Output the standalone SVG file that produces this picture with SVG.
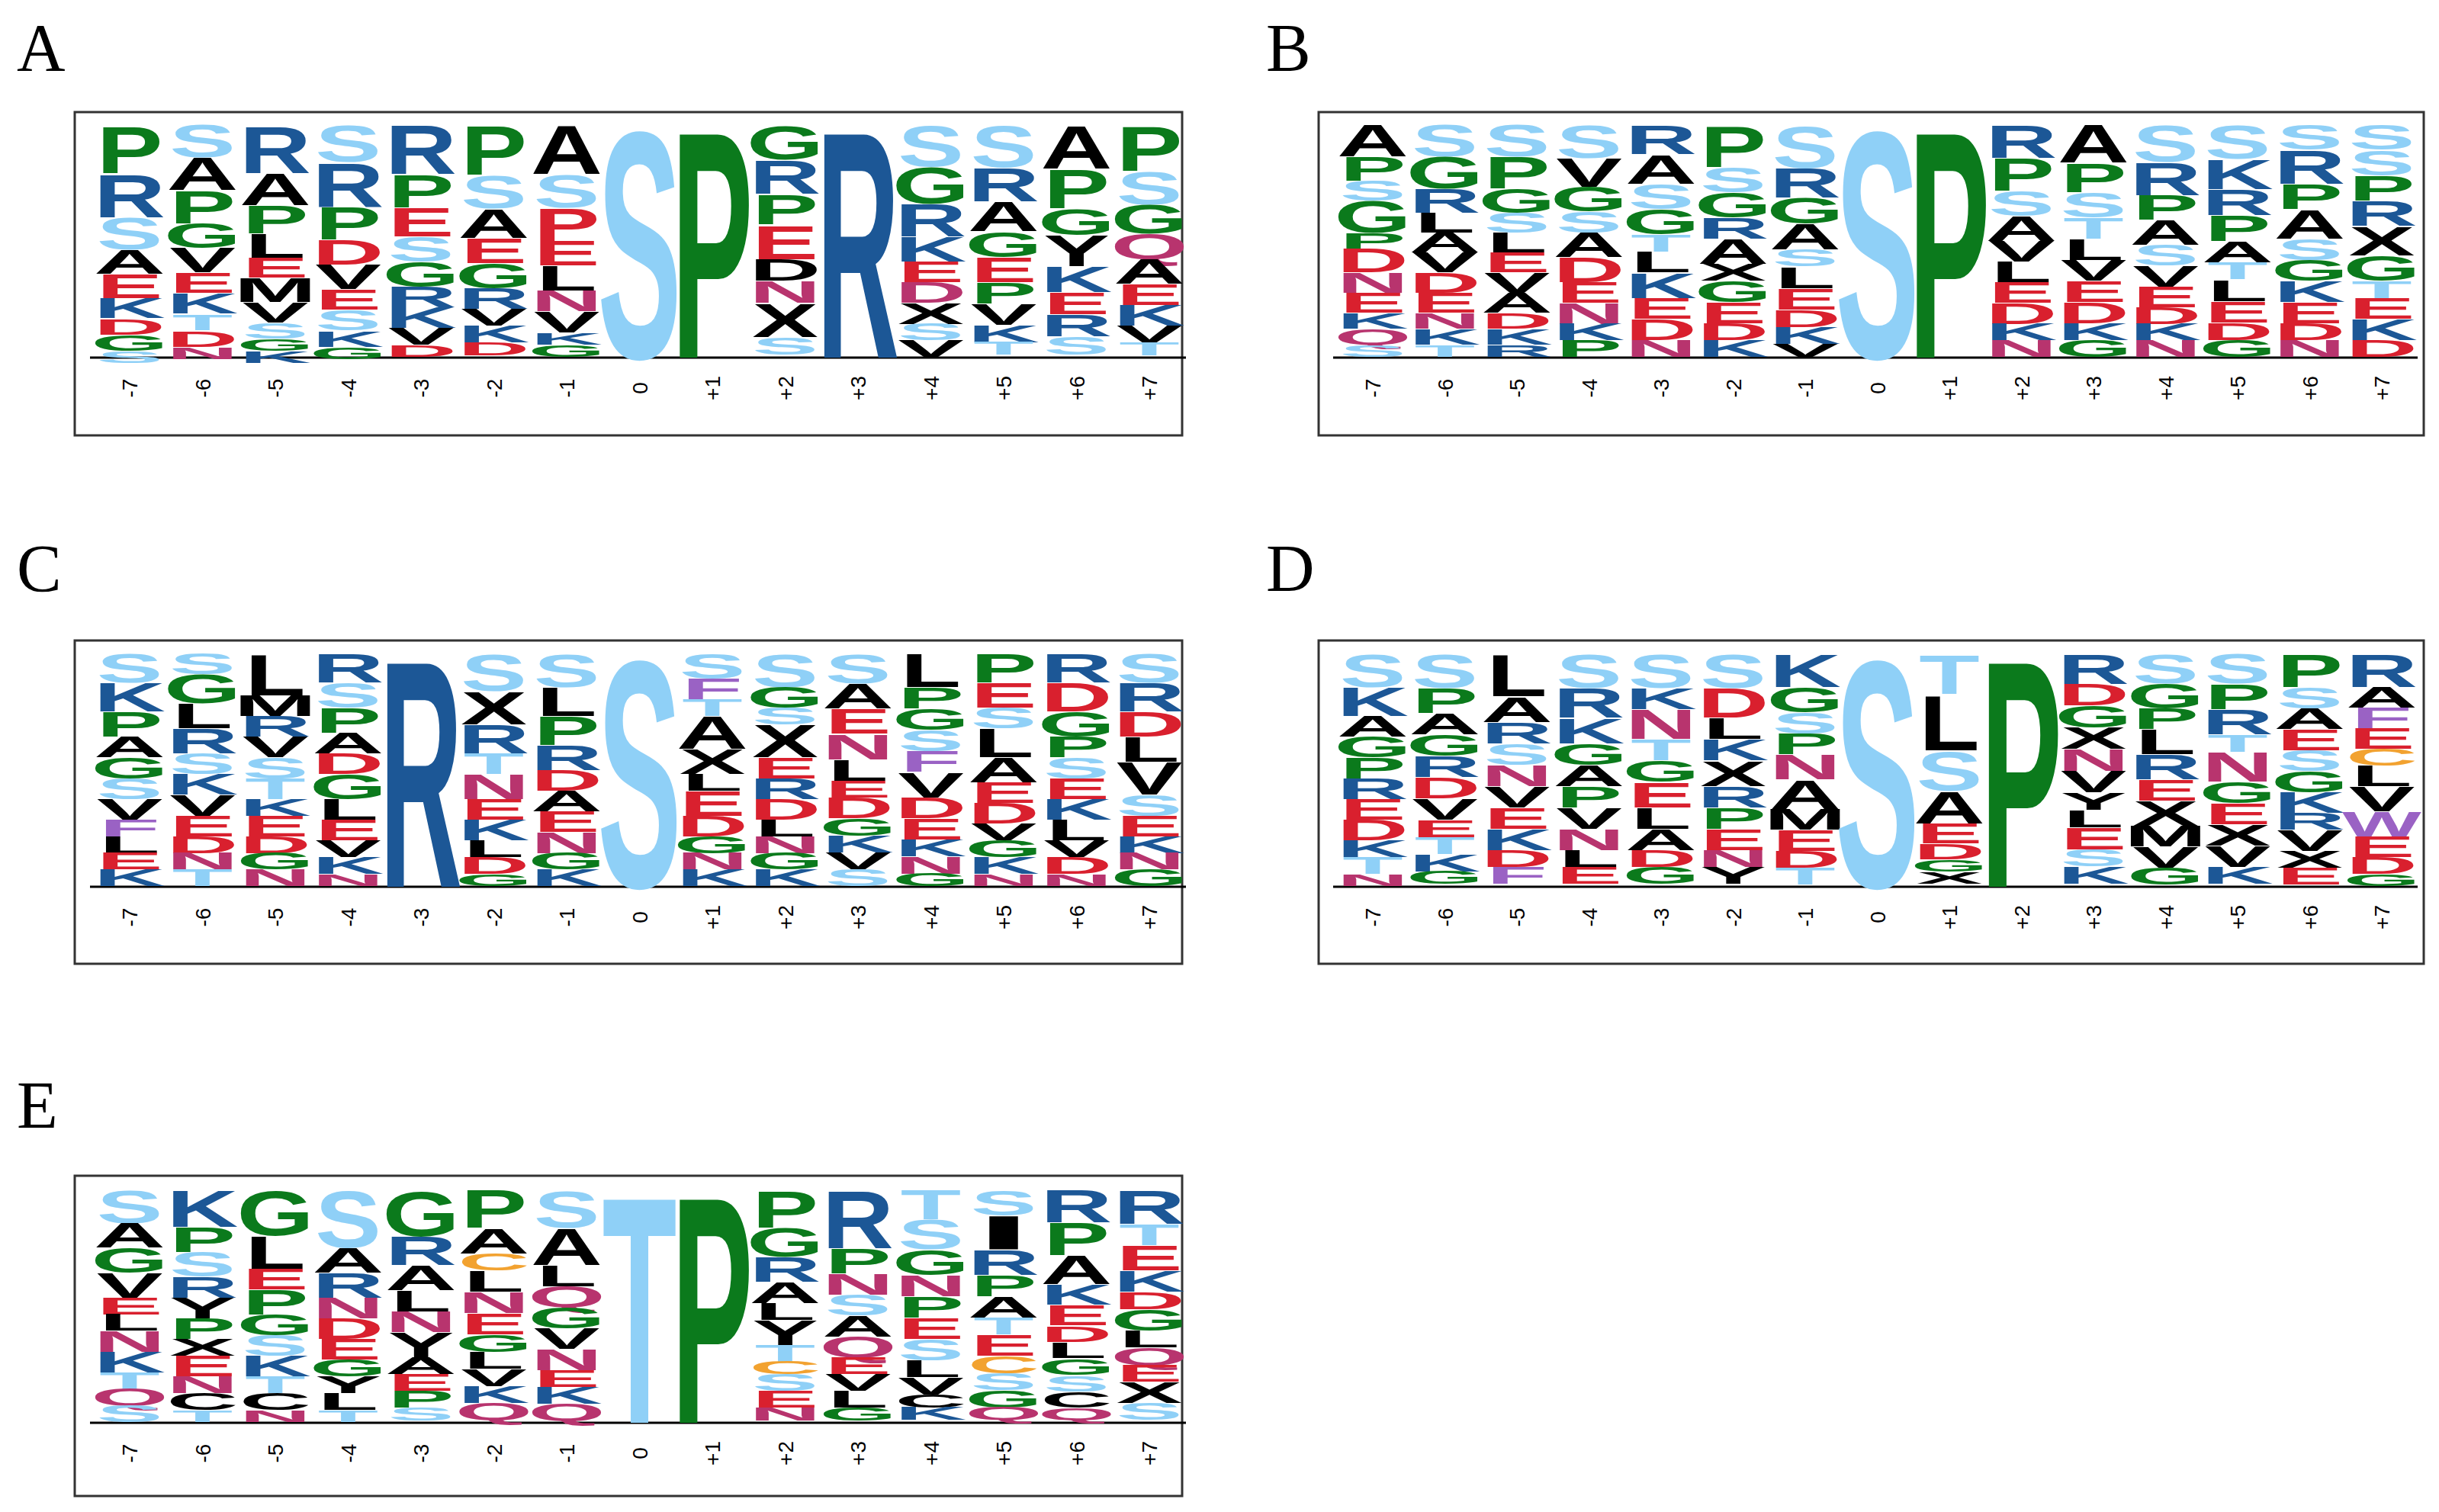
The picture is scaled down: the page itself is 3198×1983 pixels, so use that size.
<svg xmlns="http://www.w3.org/2000/svg" width="3198" height="1983" viewBox="0 0 3198 1983">
<style>
text{font-family:"Liberation Sans",Arial,sans-serif;font-weight:bold;font-size:100px;text-anchor:middle}
.s{fill:#8fd0f7}.g{fill:#0b7a1c}.b{fill:#1c5796}.k{fill:#000}.r{fill:#d9202e}.m{fill:#b8346e}.p{fill:#9a62c4}.o{fill:#f2a230}
.ax{font-weight:normal;font-size:28px;fill:#000}
.pl{font-family:"Liberation Serif","Times New Roman",serif;font-weight:normal;font-size:88px;text-anchor:start}
.box{fill:#fff;stroke:#333;stroke-width:3}
.base{stroke:#000;stroke-width:3}
</style>
<rect width="3198" height="1983" fill="#fff"/>

<g id="A">
<text class="pl" x="22" y="92">A</text>
<rect class="box" x="98" y="147" width="1452" height="424"/>
<line class="base" x1="118" y1="469" x2="1555" y2="469"/>
<g transform="translate(170,163)scale(1,1.06)"><text class="g" transform="translate(0,60)scale(1.3,.83)">P</text><text class="b" transform="translate(0,115)scale(1.3,.76)">R</text><text class="s" transform="translate(0,155)scale(1.3,.56)">S</text><text class="k" transform="translate(0,185)scale(1.3,.42)">A</text><text class="r" transform="translate(0,215)scale(1.3,.42)">E</text><text class="b" transform="translate(0,240)scale(1.3,.35)">K</text><text class="r" transform="translate(0,260)scale(1.3,.28)">D</text><text class="g" transform="translate(0,280)scale(1.3,.28)">G</text><text class="s" transform="translate(0,295)scale(1.3,.21)">S</text></g>
<g transform="translate(265.5,163)scale(1,1.08)"><text class="s" transform="translate(0,40)scale(1.3,.56)">S</text><text class="k" transform="translate(0,80)scale(1.3,.56)">A</text><text class="g" transform="translate(0,120)scale(1.3,.56)">P</text><text class="g" transform="translate(0,150)scale(1.3,.42)">G</text><text class="k" transform="translate(0,180)scale(1.3,.42)">V</text><text class="r" transform="translate(0,205)scale(1.3,.35)">E</text><text class="b" transform="translate(0,230)scale(1.3,.35)">K</text><text class="s" transform="translate(0,250)scale(1.3,.28)">T</text><text class="r" transform="translate(0,270)scale(1.3,.28)">D</text><text class="m" transform="translate(0,285)scale(1.3,.21)">N</text></g>
<g transform="translate(361,163)scale(1,1.06)"><text class="b" transform="translate(0,60)scale(1.3,.83)">R</text><text class="k" transform="translate(0,100)scale(1.3,.56)">A</text><text class="g" transform="translate(0,135)scale(1.3,.49)">P</text><text class="k" transform="translate(0,165)scale(1.3,.42)">L</text><text class="r" transform="translate(0,190)scale(1.3,.35)">E</text><text class="k" transform="translate(0,220)scale(1.3,.42)">M</text><text class="k" transform="translate(0,245)scale(1.3,.35)">V</text><text class="s" transform="translate(0,265)scale(1.3,.28)">S</text><text class="g" transform="translate(0,280)scale(1.3,.21)">G</text><text class="b" transform="translate(0,295)scale(1.3,.21)">K</text></g>
<g transform="translate(456.5,163)scale(1,1.08)"><text class="s" transform="translate(0,45)scale(1.3,.63)">S</text><text class="b" transform="translate(0,100)scale(1.3,.76)">R</text><text class="g" transform="translate(0,140)scale(1.3,.56)">P</text><text class="r" transform="translate(0,170)scale(1.3,.42)">D</text><text class="k" transform="translate(0,200)scale(1.3,.42)">V</text><text class="r" transform="translate(0,225)scale(1.3,.35)">E</text><text class="s" transform="translate(0,250)scale(1.3,.35)">S</text><text class="b" transform="translate(0,270)scale(1.3,.28)">K</text><text class="g" transform="translate(0,285)scale(1.3,.21)">G</text></g>
<g transform="translate(552,163)scale(1,1.09)"><text class="b" transform="translate(0,60)scale(1.3,.83)">R</text><text class="g" transform="translate(0,100)scale(1.3,.56)">P</text><text class="r" transform="translate(0,135)scale(1.3,.49)">E</text><text class="s" transform="translate(0,165)scale(1.3,.42)">S</text><text class="g" transform="translate(0,195)scale(1.3,.42)">G</text><text class="b" transform="translate(0,220)scale(1.3,.35)">R</text><text class="b" transform="translate(0,245)scale(1.3,.35)">K</text><text class="k" transform="translate(0,265)scale(1.3,.28)">V</text><text class="r" transform="translate(0,280)scale(1.3,.21)">D</text></g>
<g transform="translate(647.5,163)scale(1,1.1)"><text class="g" transform="translate(0,60)scale(1.3,.83)">P</text><text class="s" transform="translate(0,100)scale(1.3,.56)">S</text><text class="k" transform="translate(0,135)scale(1.3,.49)">A</text><text class="r" transform="translate(0,165)scale(1.3,.42)">E</text><text class="g" transform="translate(0,195)scale(1.3,.42)">G</text><text class="b" transform="translate(0,220)scale(1.3,.35)">R</text><text class="k" transform="translate(0,240)scale(1.3,.28)">V</text><text class="b" transform="translate(0,260)scale(1.3,.28)">K</text><text class="r" transform="translate(0,275)scale(1.3,.21)">D</text></g>
<g transform="translate(743,163)scale(1,1.09)"><text class="k" transform="translate(0,60)scale(1.3,.83)">A</text><text class="s" transform="translate(0,100)scale(1.3,.56)">S</text><text class="r" transform="translate(0,140)scale(1.3,.56)">P</text><text class="r" transform="translate(0,170)scale(1.3,.42)">E</text><text class="k" transform="translate(0,200)scale(1.3,.42)">L</text><text class="m" transform="translate(0,225)scale(1.3,.35)">N</text><text class="k" transform="translate(0,250)scale(1.3,.35)">V</text><text class="b" transform="translate(0,265)scale(1.3,.21)">K</text><text class="g" transform="translate(0,280)scale(1.3,.21)">G</text></g>
<g transform="translate(838.5,163)"><text class="s" transform="translate(0,306)scale(1.65,4.25)">S</text></g>
<g transform="translate(934,163)"><text class="g" transform="translate(0,306)scale(1.6,4.25)">P</text></g>
<g transform="translate(1029.5,163)scale(1,1.14)"><text class="g" transform="translate(0,40)scale(1.3,.56)">G</text><text class="b" transform="translate(0,80)scale(1.3,.56)">R</text><text class="g" transform="translate(0,115)scale(1.3,.49)">P</text><text class="r" transform="translate(0,155)scale(1.3,.56)">E</text><text class="k" transform="translate(0,180)scale(1.3,.35)">D</text><text class="m" transform="translate(0,205)scale(1.3,.35)">N</text><text class="k" transform="translate(0,245)scale(1.3,.56)">X</text><text class="s" transform="translate(0,265)scale(1.3,.28)">S</text></g>
<g transform="translate(1125,163)"><text class="b" transform="translate(0,306)scale(1.5,4.25)">R</text></g>
<g transform="translate(1220.5,163)scale(1,1.09)"><text class="s" transform="translate(0,50)scale(1.3,.69)">S</text><text class="g" transform="translate(0,95)scale(1.3,.63)">G</text><text class="b" transform="translate(0,135)scale(1.3,.56)">R</text><text class="b" transform="translate(0,165)scale(1.3,.42)">K</text><text class="r" transform="translate(0,190)scale(1.3,.35)">E</text><text class="m" transform="translate(0,215)scale(1.3,.35)">D</text><text class="k" transform="translate(0,240)scale(1.3,.35)">X</text><text class="s" transform="translate(0,260)scale(1.3,.28)">S</text><text class="k" transform="translate(0,280)scale(1.3,.28)">V</text></g>
<g transform="translate(1316,163)scale(1,1.12)"><text class="s" transform="translate(0,50)scale(1.3,.69)">S</text><text class="b" transform="translate(0,90)scale(1.3,.56)">R</text><text class="k" transform="translate(0,125)scale(1.3,.49)">A</text><text class="g" transform="translate(0,155)scale(1.3,.42)">G</text><text class="r" transform="translate(0,185)scale(1.3,.42)">E</text><text class="g" transform="translate(0,210)scale(1.3,.35)">P</text><text class="k" transform="translate(0,235)scale(1.3,.35)">V</text><text class="b" transform="translate(0,255)scale(1.3,.28)">K</text><text class="s" transform="translate(0,270)scale(1.3,.21)">T</text></g>
<g transform="translate(1411.5,163)scale(1,1.16)"><text class="k" transform="translate(0,50)scale(1.3,.69)">A</text><text class="g" transform="translate(0,95)scale(1.3,.63)">P</text><text class="g" transform="translate(0,125)scale(1.3,.42)">G</text><text class="k" transform="translate(0,160)scale(1.3,.49)">Y</text><text class="b" transform="translate(0,190)scale(1.3,.42)">K</text><text class="r" transform="translate(0,215)scale(1.3,.35)">E</text><text class="b" transform="translate(0,240)scale(1.3,.35)">R</text><text class="s" transform="translate(0,260)scale(1.3,.28)">S</text></g>
<g transform="translate(1507,163)scale(1,1.1)"><text class="g" transform="translate(0,55)scale(1.3,.76)">P</text><text class="s" transform="translate(0,95)scale(1.3,.56)">S</text><text class="g" transform="translate(0,130)scale(1.3,.49)">G</text><text class="m" transform="translate(0,160)scale(1.3,.42)">Q</text><text class="k" transform="translate(0,190)scale(1.3,.42)">A</text><text class="r" transform="translate(0,215)scale(1.3,.35)">E</text><text class="b" transform="translate(0,240)scale(1.3,.35)">K</text><text class="k" transform="translate(0,260)scale(1.3,.28)">V</text><text class="s" transform="translate(0,275)scale(1.3,.21)">T</text></g>
<g><text class="ax" transform="translate(180,509)rotate(-90)">-7</text><text class="ax" transform="translate(275.5,509)rotate(-90)">-6</text><text class="ax" transform="translate(371,509)rotate(-90)">-5</text><text class="ax" transform="translate(466.5,509)rotate(-90)">-4</text><text class="ax" transform="translate(562,509)rotate(-90)">-3</text><text class="ax" transform="translate(657.5,509)rotate(-90)">-2</text><text class="ax" transform="translate(753,509)rotate(-90)">-1</text><text class="ax" transform="translate(848.5,509)rotate(-90)">0</text><text class="ax" transform="translate(944,509)rotate(-90)">+1</text><text class="ax" transform="translate(1039.5,509)rotate(-90)">+2</text><text class="ax" transform="translate(1135,509)rotate(-90)">+3</text><text class="ax" transform="translate(1230.5,509)rotate(-90)">+4</text><text class="ax" transform="translate(1326,509)rotate(-90)">+5</text><text class="ax" transform="translate(1421.5,509)rotate(-90)">+6</text><text class="ax" transform="translate(1517,509)rotate(-90)">+7</text></g>
</g>

<g id="B">
<text class="pl" x="1660" y="92">B</text>
<rect class="box" x="1729" y="147" width="1449" height="424"/>
<line class="base" x1="1748" y1="469" x2="3170" y2="469"/>
<g transform="translate(1800,163)scale(1,1.05)"><text class="k" transform="translate(0,40)scale(1.3,.56)">A</text><text class="g" transform="translate(0,70)scale(1.3,.42)">P</text><text class="s" transform="translate(0,95)scale(1.3,.35)">S</text><text class="g" transform="translate(0,135)scale(1.3,.56)">G</text><text class="g" transform="translate(0,155)scale(1.3,.28)">P</text><text class="r" transform="translate(0,185)scale(1.3,.42)">D</text><text class="m" transform="translate(0,210)scale(1.3,.35)">N</text><text class="r" transform="translate(0,235)scale(1.3,.35)">E</text><text class="b" transform="translate(0,255)scale(1.3,.28)">K</text><text class="m" transform="translate(0,275)scale(1.3,.28)">Q</text><text class="s" transform="translate(0,290)scale(1.3,.21)">S</text></g>
<g transform="translate(1894.5,163)scale(1,1.05)"><text class="s" transform="translate(0,40)scale(1.3,.56)">S</text><text class="g" transform="translate(0,80)scale(1.3,.56)">G</text><text class="b" transform="translate(0,110)scale(1.3,.42)">R</text><text class="k" transform="translate(0,135)scale(1.3,.35)">L</text><text class="k" transform="translate(0,160)scale(1.3,.35)">A</text><text class="k" transform="translate(0,185)scale(1.3,.35)">V</text><text class="r" transform="translate(0,210)scale(1.3,.35)">D</text><text class="r" transform="translate(0,235)scale(1.3,.35)">E</text><text class="m" transform="translate(0,255)scale(1.3,.28)">N</text><text class="b" transform="translate(0,275)scale(1.3,.28)">K</text><text class="s" transform="translate(0,290)scale(1.3,.21)">T</text></g>
<g transform="translate(1989,163)scale(1,1.05)"><text class="s" transform="translate(0,40)scale(1.3,.56)">S</text><text class="g" transform="translate(0,80)scale(1.3,.56)">P</text><text class="g" transform="translate(0,110)scale(1.3,.42)">G</text><text class="s" transform="translate(0,135)scale(1.3,.35)">S</text><text class="k" transform="translate(0,160)scale(1.3,.35)">L</text><text class="r" transform="translate(0,185)scale(1.3,.35)">E</text><text class="k" transform="translate(0,210)scale(1.3,.35)">V</text><text class="k" transform="translate(0,235)scale(1.3,.35)">A</text><text class="r" transform="translate(0,255)scale(1.3,.28)">D</text><text class="b" transform="translate(0,275)scale(1.3,.28)">K</text><text class="b" transform="translate(0,290)scale(1.3,.21)">R</text></g>
<g transform="translate(2083.5,163)scale(1,1.09)"><text class="s" transform="translate(0,40)scale(1.3,.56)">S</text><text class="k" transform="translate(0,75)scale(1.3,.49)">V</text><text class="g" transform="translate(0,105)scale(1.3,.42)">G</text><text class="s" transform="translate(0,130)scale(1.3,.35)">S</text><text class="k" transform="translate(0,160)scale(1.3,.42)">A</text><text class="r" transform="translate(0,190)scale(1.3,.42)">D</text><text class="r" transform="translate(0,215)scale(1.3,.35)">E</text><text class="m" transform="translate(0,240)scale(1.3,.35)">N</text><text class="b" transform="translate(0,260)scale(1.3,.28)">K</text><text class="g" transform="translate(0,280)scale(1.3,.28)">P</text></g>
<g transform="translate(2178,163)scale(1,1.11)"><text class="b" transform="translate(0,35)scale(1.3,.49)">R</text><text class="k" transform="translate(0,70)scale(1.3,.49)">A</text><text class="s" transform="translate(0,100)scale(1.3,.42)">S</text><text class="g" transform="translate(0,130)scale(1.3,.42)">G</text><text class="s" transform="translate(0,150)scale(1.3,.28)">T</text><text class="k" transform="translate(0,175)scale(1.3,.35)">L</text><text class="b" transform="translate(0,205)scale(1.3,.42)">K</text><text class="r" transform="translate(0,230)scale(1.3,.35)">E</text><text class="r" transform="translate(0,255)scale(1.3,.35)">D</text><text class="m" transform="translate(0,275)scale(1.3,.28)">N</text></g>
<g transform="translate(2272.5,163)scale(1,1.11)"><text class="g" transform="translate(0,50)scale(1.3,.69)">P</text><text class="s" transform="translate(0,80)scale(1.3,.42)">S</text><text class="g" transform="translate(0,110)scale(1.3,.42)">G</text><text class="b" transform="translate(0,135)scale(1.3,.35)">R</text><text class="k" transform="translate(0,165)scale(1.3,.42)">A</text><text class="k" transform="translate(0,185)scale(1.3,.28)">X</text><text class="g" transform="translate(0,210)scale(1.3,.35)">G</text><text class="r" transform="translate(0,235)scale(1.3,.35)">E</text><text class="r" transform="translate(0,255)scale(1.3,.28)">D</text><text class="b" transform="translate(0,275)scale(1.3,.28)">K</text></g>
<g transform="translate(2367,163)scale(1,1.13)"><text class="s" transform="translate(0,50)scale(1.3,.69)">S</text><text class="b" transform="translate(0,85)scale(1.3,.49)">R</text><text class="g" transform="translate(0,115)scale(1.3,.42)">G</text><text class="k" transform="translate(0,145)scale(1.3,.42)">A</text><text class="s" transform="translate(0,165)scale(1.3,.28)">S</text><text class="k" transform="translate(0,190)scale(1.3,.35)">L</text><text class="r" transform="translate(0,215)scale(1.3,.35)">E</text><text class="r" transform="translate(0,235)scale(1.3,.28)">D</text><text class="b" transform="translate(0,255)scale(1.3,.28)">K</text><text class="k" transform="translate(0,270)scale(1.3,.21)">V</text></g>
<g transform="translate(2461.5,163)"><text class="s" transform="translate(0,306)scale(1.65,4.25)">S</text></g>
<g transform="translate(2556,163)"><text class="g" transform="translate(0,306)scale(1.6,4.25)">P</text></g>
<g transform="translate(2650.5,163)scale(1,1.09)"><text class="b" transform="translate(0,40)scale(1.3,.56)">R</text><text class="g" transform="translate(0,80)scale(1.3,.56)">P</text><text class="s" transform="translate(0,110)scale(1.3,.42)">S</text><text class="k" transform="translate(0,140)scale(1.3,.42)">A</text><text class="k" transform="translate(0,165)scale(1.3,.35)">V</text><text class="k" transform="translate(0,190)scale(1.3,.35)">L</text><text class="r" transform="translate(0,215)scale(1.3,.35)">E</text><text class="r" transform="translate(0,240)scale(1.3,.35)">D</text><text class="b" transform="translate(0,260)scale(1.3,.28)">K</text><text class="m" transform="translate(0,280)scale(1.3,.28)">N</text></g>
<g transform="translate(2745,163)scale(1,1.11)"><text class="k" transform="translate(0,45)scale(1.3,.63)">A</text><text class="g" transform="translate(0,80)scale(1.3,.49)">P</text><text class="s" transform="translate(0,110)scale(1.3,.42)">S</text><text class="s" transform="translate(0,135)scale(1.3,.35)">T</text><text class="k" transform="translate(0,160)scale(1.3,.35)">L</text><text class="k" transform="translate(0,185)scale(1.3,.35)">V</text><text class="r" transform="translate(0,210)scale(1.3,.35)">E</text><text class="r" transform="translate(0,235)scale(1.3,.35)">D</text><text class="b" transform="translate(0,255)scale(1.3,.28)">K</text><text class="g" transform="translate(0,275)scale(1.3,.28)">G</text></g>
<g transform="translate(2839.5,163)scale(1,1.09)"><text class="s" transform="translate(0,45)scale(1.3,.63)">S</text><text class="b" transform="translate(0,85)scale(1.3,.56)">R</text><text class="g" transform="translate(0,115)scale(1.3,.42)">P</text><text class="k" transform="translate(0,145)scale(1.3,.42)">A</text><text class="s" transform="translate(0,170)scale(1.3,.35)">S</text><text class="k" transform="translate(0,195)scale(1.3,.35)">V</text><text class="r" transform="translate(0,220)scale(1.3,.35)">E</text><text class="r" transform="translate(0,240)scale(1.3,.28)">D</text><text class="b" transform="translate(0,260)scale(1.3,.28)">K</text><text class="m" transform="translate(0,280)scale(1.3,.28)">N</text></g>
<g transform="translate(2934,163)scale(1,1.13)"><text class="s" transform="translate(0,40)scale(1.3,.56)">S</text><text class="b" transform="translate(0,75)scale(1.3,.49)">K</text><text class="b" transform="translate(0,105)scale(1.3,.42)">R</text><text class="g" transform="translate(0,135)scale(1.3,.42)">P</text><text class="k" transform="translate(0,160)scale(1.3,.35)">A</text><text class="s" transform="translate(0,180)scale(1.3,.28)">T</text><text class="k" transform="translate(0,205)scale(1.3,.35)">L</text><text class="r" transform="translate(0,230)scale(1.3,.35)">E</text><text class="r" transform="translate(0,250)scale(1.3,.28)">D</text><text class="g" transform="translate(0,270)scale(1.3,.28)">G</text></g>
<g transform="translate(3028.5,163)scale(1,1.11)"><text class="s" transform="translate(0,30)scale(1.3,.42)">S</text><text class="b" transform="translate(0,70)scale(1.3,.56)">R</text><text class="g" transform="translate(0,100)scale(1.3,.42)">P</text><text class="k" transform="translate(0,135)scale(1.3,.49)">A</text><text class="s" transform="translate(0,160)scale(1.3,.35)">S</text><text class="g" transform="translate(0,185)scale(1.3,.35)">G</text><text class="b" transform="translate(0,210)scale(1.3,.35)">K</text><text class="r" transform="translate(0,235)scale(1.3,.35)">E</text><text class="r" transform="translate(0,255)scale(1.3,.28)">D</text><text class="m" transform="translate(0,275)scale(1.3,.28)">N</text></g>
<g transform="translate(3123,163)scale(1,1.11)"><text class="s" transform="translate(0,30)scale(1.3,.42)">S</text><text class="s" transform="translate(0,60)scale(1.3,.42)">S</text><text class="g" transform="translate(0,90)scale(1.3,.42)">P</text><text class="b" transform="translate(0,120)scale(1.3,.42)">R</text><text class="k" transform="translate(0,155)scale(1.3,.49)">X</text><text class="g" transform="translate(0,185)scale(1.3,.42)">G</text><text class="s" transform="translate(0,205)scale(1.3,.28)">T</text><text class="r" transform="translate(0,230)scale(1.3,.35)">E</text><text class="b" transform="translate(0,255)scale(1.3,.35)">K</text><text class="r" transform="translate(0,275)scale(1.3,.28)">D</text></g>
<g><text class="ax" transform="translate(1810,509)rotate(-90)">-7</text><text class="ax" transform="translate(1904.5,509)rotate(-90)">-6</text><text class="ax" transform="translate(1999,509)rotate(-90)">-5</text><text class="ax" transform="translate(2093.5,509)rotate(-90)">-4</text><text class="ax" transform="translate(2188,509)rotate(-90)">-3</text><text class="ax" transform="translate(2282.5,509)rotate(-90)">-2</text><text class="ax" transform="translate(2377,509)rotate(-90)">-1</text><text class="ax" transform="translate(2471.5,509)rotate(-90)">0</text><text class="ax" transform="translate(2566,509)rotate(-90)">+1</text><text class="ax" transform="translate(2660.5,509)rotate(-90)">+2</text><text class="ax" transform="translate(2755,509)rotate(-90)">+3</text><text class="ax" transform="translate(2849.5,509)rotate(-90)">+4</text><text class="ax" transform="translate(2944,509)rotate(-90)">+5</text><text class="ax" transform="translate(3038.5,509)rotate(-90)">+6</text><text class="ax" transform="translate(3133,509)rotate(-90)">+7</text></g>
</g>

<g id="C">
<text class="pl" x="22" y="775">C</text>
<rect class="box" x="98" y="840" width="1452" height="424"/>
<line class="base" x1="118" y1="1163" x2="1555" y2="1163"/>
<g transform="translate(170,857)scale(1,1.09)"><text class="s" transform="translate(0,35)scale(1.3,.49)">S</text><text class="b" transform="translate(0,70)scale(1.3,.49)">K</text><text class="g" transform="translate(0,100)scale(1.3,.42)">P</text><text class="k" transform="translate(0,125)scale(1.3,.35)">A</text><text class="g" transform="translate(0,150)scale(1.3,.35)">G</text><text class="s" transform="translate(0,175)scale(1.3,.35)">S</text><text class="k" transform="translate(0,200)scale(1.3,.35)">V</text><text class="p" transform="translate(0,220)scale(1.3,.28)">F</text><text class="k" transform="translate(0,240)scale(1.3,.28)">L</text><text class="r" transform="translate(0,260)scale(1.3,.28)">E</text><text class="b" transform="translate(0,280)scale(1.3,.28)">K</text></g>
<g transform="translate(265.5,857)scale(1,1.09)"><text class="s" transform="translate(0,25)scale(1.3,.35)">S</text><text class="g" transform="translate(0,60)scale(1.3,.49)">G</text><text class="k" transform="translate(0,90)scale(1.3,.42)">L</text><text class="b" transform="translate(0,120)scale(1.3,.42)">R</text><text class="s" transform="translate(0,145)scale(1.3,.35)">S</text><text class="b" transform="translate(0,170)scale(1.3,.35)">K</text><text class="k" transform="translate(0,195)scale(1.3,.35)">V</text><text class="r" transform="translate(0,220)scale(1.3,.35)">E</text><text class="r" transform="translate(0,240)scale(1.3,.28)">D</text><text class="m" transform="translate(0,260)scale(1.3,.28)">N</text><text class="s" transform="translate(0,280)scale(1.3,.28)">T</text></g>
<g transform="translate(361,857)scale(1,1.09)"><text class="k" transform="translate(0,50)scale(1.3,.69)">L</text><text class="k" transform="translate(0,75)scale(1.3,.35)">M</text><text class="b" transform="translate(0,100)scale(1.3,.35)">R</text><text class="k" transform="translate(0,125)scale(1.3,.35)">V</text><text class="s" transform="translate(0,150)scale(1.3,.35)">S</text><text class="s" transform="translate(0,175)scale(1.3,.35)">T</text><text class="b" transform="translate(0,195)scale(1.3,.28)">K</text><text class="r" transform="translate(0,220)scale(1.3,.35)">E</text><text class="r" transform="translate(0,240)scale(1.3,.28)">D</text><text class="g" transform="translate(0,260)scale(1.3,.28)">G</text><text class="m" transform="translate(0,280)scale(1.3,.28)">N</text></g>
<g transform="translate(456.5,857)scale(1,1.09)"><text class="b" transform="translate(0,35)scale(1.3,.49)">R</text><text class="s" transform="translate(0,65)scale(1.3,.42)">S</text><text class="g" transform="translate(0,95)scale(1.3,.42)">P</text><text class="k" transform="translate(0,120)scale(1.3,.35)">A</text><text class="r" transform="translate(0,145)scale(1.3,.35)">D</text><text class="g" transform="translate(0,175)scale(1.3,.42)">G</text><text class="k" transform="translate(0,200)scale(1.3,.35)">L</text><text class="r" transform="translate(0,225)scale(1.3,.35)">E</text><text class="k" transform="translate(0,245)scale(1.3,.28)">V</text><text class="b" transform="translate(0,265)scale(1.3,.28)">K</text><text class="m" transform="translate(0,280)scale(1.3,.21)">N</text></g>
<g transform="translate(552,857)"><text class="b" transform="translate(0,306)scale(1.5,4.25)">R</text></g>
<g transform="translate(647.5,857)scale(1,1.09)"><text class="s" transform="translate(0,45)scale(1.3,.63)">S</text><text class="k" transform="translate(0,85)scale(1.3,.56)">X</text><text class="b" transform="translate(0,120)scale(1.3,.49)">R</text><text class="s" transform="translate(0,145)scale(1.3,.35)">T</text><text class="m" transform="translate(0,175)scale(1.3,.42)">N</text><text class="r" transform="translate(0,200)scale(1.3,.35)">E</text><text class="b" transform="translate(0,225)scale(1.3,.35)">K</text><text class="k" transform="translate(0,245)scale(1.3,.28)">L</text><text class="r" transform="translate(0,265)scale(1.3,.28)">D</text><text class="g" transform="translate(0,280)scale(1.3,.21)">G</text></g>
<g transform="translate(743,857)scale(1,1.09)"><text class="s" transform="translate(0,40)scale(1.3,.56)">S</text><text class="k" transform="translate(0,75)scale(1.3,.49)">L</text><text class="g" transform="translate(0,110)scale(1.3,.49)">P</text><text class="b" transform="translate(0,140)scale(1.3,.42)">R</text><text class="r" transform="translate(0,165)scale(1.3,.35)">D</text><text class="k" transform="translate(0,190)scale(1.3,.35)">A</text><text class="r" transform="translate(0,215)scale(1.3,.35)">E</text><text class="m" transform="translate(0,240)scale(1.3,.35)">N</text><text class="g" transform="translate(0,260)scale(1.3,.28)">G</text><text class="b" transform="translate(0,280)scale(1.3,.28)">K</text></g>
<g transform="translate(838.5,857)"><text class="s" transform="translate(0,306)scale(1.65,4.25)">S</text></g>
<g transform="translate(934,857)scale(1,1.09)"><text class="s" transform="translate(0,30)scale(1.3,.42)">S</text><text class="p" transform="translate(0,55)scale(1.3,.35)">F</text><text class="s" transform="translate(0,75)scale(1.3,.28)">T</text><text class="k" transform="translate(0,115)scale(1.3,.56)">A</text><text class="k" transform="translate(0,145)scale(1.3,.42)">X</text><text class="k" transform="translate(0,165)scale(1.3,.28)">L</text><text class="r" transform="translate(0,195)scale(1.3,.42)">E</text><text class="r" transform="translate(0,220)scale(1.3,.35)">D</text><text class="g" transform="translate(0,240)scale(1.3,.28)">G</text><text class="m" transform="translate(0,260)scale(1.3,.28)">N</text><text class="b" transform="translate(0,280)scale(1.3,.28)">K</text></g>
<g transform="translate(1029.5,857)scale(1,1.09)"><text class="s" transform="translate(0,40)scale(1.3,.56)">S</text><text class="g" transform="translate(0,65)scale(1.3,.35)">G</text><text class="s" transform="translate(0,85)scale(1.3,.28)">S</text><text class="k" transform="translate(0,125)scale(1.3,.56)">X</text><text class="r" transform="translate(0,150)scale(1.3,.35)">E</text><text class="b" transform="translate(0,175)scale(1.3,.35)">R</text><text class="r" transform="translate(0,200)scale(1.3,.35)">D</text><text class="k" transform="translate(0,220)scale(1.3,.28)">L</text><text class="m" transform="translate(0,240)scale(1.3,.28)">N</text><text class="g" transform="translate(0,260)scale(1.3,.28)">G</text><text class="b" transform="translate(0,280)scale(1.3,.28)">K</text></g>
<g transform="translate(1125,857)scale(1,1.11)"><text class="s" transform="translate(0,35)scale(1.3,.49)">S</text><text class="k" transform="translate(0,65)scale(1.3,.42)">A</text><text class="r" transform="translate(0,95)scale(1.3,.42)">E</text><text class="m" transform="translate(0,125)scale(1.3,.42)">N</text><text class="k" transform="translate(0,150)scale(1.3,.35)">L</text><text class="r" transform="translate(0,170)scale(1.3,.28)">E</text><text class="r" transform="translate(0,195)scale(1.3,.35)">D</text><text class="g" transform="translate(0,215)scale(1.3,.28)">G</text><text class="b" transform="translate(0,235)scale(1.3,.28)">K</text><text class="k" transform="translate(0,255)scale(1.3,.28)">V</text><text class="s" transform="translate(0,275)scale(1.3,.28)">S</text></g>
<g transform="translate(1220.5,857)scale(1,1.11)"><text class="k" transform="translate(0,40)scale(1.3,.56)">L</text><text class="g" transform="translate(0,65)scale(1.3,.35)">P</text><text class="g" transform="translate(0,90)scale(1.3,.35)">G</text><text class="s" transform="translate(0,115)scale(1.3,.35)">S</text><text class="p" transform="translate(0,140)scale(1.3,.35)">F</text><text class="k" transform="translate(0,170)scale(1.3,.42)">V</text><text class="r" transform="translate(0,195)scale(1.3,.35)">D</text><text class="r" transform="translate(0,220)scale(1.3,.35)">E</text><text class="b" transform="translate(0,240)scale(1.3,.28)">K</text><text class="m" transform="translate(0,260)scale(1.3,.28)">N</text><text class="g" transform="translate(0,275)scale(1.3,.21)">G</text></g>
<g transform="translate(1316,857)scale(1,1.09)"><text class="g" transform="translate(0,35)scale(1.3,.49)">P</text><text class="r" transform="translate(0,65)scale(1.3,.42)">E</text><text class="s" transform="translate(0,90)scale(1.3,.35)">S</text><text class="k" transform="translate(0,125)scale(1.3,.49)">L</text><text class="k" transform="translate(0,155)scale(1.3,.42)">A</text><text class="r" transform="translate(0,180)scale(1.3,.35)">E</text><text class="r" transform="translate(0,205)scale(1.3,.35)">D</text><text class="k" transform="translate(0,225)scale(1.3,.28)">V</text><text class="g" transform="translate(0,245)scale(1.3,.28)">G</text><text class="b" transform="translate(0,265)scale(1.3,.28)">K</text><text class="m" transform="translate(0,280)scale(1.3,.21)">N</text></g>
<g transform="translate(1411.5,857)scale(1,1.09)"><text class="b" transform="translate(0,35)scale(1.3,.49)">R</text><text class="r" transform="translate(0,70)scale(1.3,.49)">D</text><text class="g" transform="translate(0,100)scale(1.3,.42)">G</text><text class="g" transform="translate(0,125)scale(1.3,.35)">P</text><text class="s" transform="translate(0,150)scale(1.3,.35)">S</text><text class="r" transform="translate(0,175)scale(1.3,.35)">E</text><text class="b" transform="translate(0,200)scale(1.3,.35)">K</text><text class="k" transform="translate(0,225)scale(1.3,.35)">L</text><text class="k" transform="translate(0,245)scale(1.3,.28)">V</text><text class="r" transform="translate(0,265)scale(1.3,.28)">D</text><text class="m" transform="translate(0,280)scale(1.3,.21)">N</text></g>
<g transform="translate(1507,857)scale(1,1.09)"><text class="s" transform="translate(0,35)scale(1.3,.49)">S</text><text class="b" transform="translate(0,70)scale(1.3,.49)">R</text><text class="r" transform="translate(0,100)scale(1.3,.42)">D</text><text class="k" transform="translate(0,130)scale(1.3,.42)">L</text><text class="k" transform="translate(0,170)scale(1.3,.56)">V</text><text class="s" transform="translate(0,195)scale(1.3,.35)">S</text><text class="r" transform="translate(0,220)scale(1.3,.35)">E</text><text class="b" transform="translate(0,240)scale(1.3,.28)">K</text><text class="m" transform="translate(0,260)scale(1.3,.28)">N</text><text class="g" transform="translate(0,280)scale(1.3,.28)">G</text></g>
<g><text class="ax" transform="translate(180,1203)rotate(-90)">-7</text><text class="ax" transform="translate(275.5,1203)rotate(-90)">-6</text><text class="ax" transform="translate(371,1203)rotate(-90)">-5</text><text class="ax" transform="translate(466.5,1203)rotate(-90)">-4</text><text class="ax" transform="translate(562,1203)rotate(-90)">-3</text><text class="ax" transform="translate(657.5,1203)rotate(-90)">-2</text><text class="ax" transform="translate(753,1203)rotate(-90)">-1</text><text class="ax" transform="translate(848.5,1203)rotate(-90)">0</text><text class="ax" transform="translate(944,1203)rotate(-90)">+1</text><text class="ax" transform="translate(1039.5,1203)rotate(-90)">+2</text><text class="ax" transform="translate(1135,1203)rotate(-90)">+3</text><text class="ax" transform="translate(1230.5,1203)rotate(-90)">+4</text><text class="ax" transform="translate(1326,1203)rotate(-90)">+5</text><text class="ax" transform="translate(1421.5,1203)rotate(-90)">+6</text><text class="ax" transform="translate(1517,1203)rotate(-90)">+7</text></g>
</g>

<g id="D">
<text class="pl" x="1660" y="775">D</text>
<rect class="box" x="1729" y="840" width="1449" height="424"/>
<line class="base" x1="1748" y1="1163" x2="3170" y2="1163"/>
<g transform="translate(1800,857)scale(1,1.09)"><text class="s" transform="translate(0,40)scale(1.3,.56)">S</text><text class="b" transform="translate(0,75)scale(1.3,.49)">K</text><text class="k" transform="translate(0,100)scale(1.3,.35)">A</text><text class="g" transform="translate(0,125)scale(1.3,.35)">G</text><text class="g" transform="translate(0,150)scale(1.3,.35)">P</text><text class="b" transform="translate(0,175)scale(1.3,.35)">R</text><text class="r" transform="translate(0,200)scale(1.3,.35)">E</text><text class="r" transform="translate(0,225)scale(1.3,.35)">D</text><text class="b" transform="translate(0,245)scale(1.3,.28)">K</text><text class="s" transform="translate(0,265)scale(1.3,.28)">T</text><text class="m" transform="translate(0,280)scale(1.3,.21)">N</text></g>
<g transform="translate(1894.5,857)scale(1,1.12)"><text class="s" transform="translate(0,40)scale(1.3,.56)">S</text><text class="g" transform="translate(0,70)scale(1.3,.42)">P</text><text class="k" transform="translate(0,95)scale(1.3,.35)">A</text><text class="g" transform="translate(0,120)scale(1.3,.35)">G</text><text class="b" transform="translate(0,145)scale(1.3,.35)">R</text><text class="r" transform="translate(0,170)scale(1.3,.35)">D</text><text class="k" transform="translate(0,195)scale(1.3,.35)">V</text><text class="r" transform="translate(0,215)scale(1.3,.28)">E</text><text class="s" transform="translate(0,235)scale(1.3,.28)">T</text><text class="b" transform="translate(0,255)scale(1.3,.28)">K</text><text class="g" transform="translate(0,270)scale(1.3,.21)">G</text></g>
<g transform="translate(1989,857)scale(1,1.12)"><text class="k" transform="translate(0,50)scale(1.3,.69)">L</text><text class="k" transform="translate(0,80)scale(1.3,.42)">A</text><text class="b" transform="translate(0,105)scale(1.3,.35)">R</text><text class="s" transform="translate(0,130)scale(1.3,.35)">S</text><text class="m" transform="translate(0,155)scale(1.3,.35)">N</text><text class="k" transform="translate(0,180)scale(1.3,.35)">V</text><text class="r" transform="translate(0,205)scale(1.3,.35)">E</text><text class="b" transform="translate(0,230)scale(1.3,.35)">K</text><text class="r" transform="translate(0,250)scale(1.3,.28)">D</text><text class="p" transform="translate(0,270)scale(1.3,.28)">F</text></g>
<g transform="translate(2083.5,857)scale(1,1.12)"><text class="s" transform="translate(0,40)scale(1.3,.56)">S</text><text class="b" transform="translate(0,75)scale(1.3,.49)">R</text><text class="b" transform="translate(0,105)scale(1.3,.42)">K</text><text class="g" transform="translate(0,130)scale(1.3,.35)">G</text><text class="k" transform="translate(0,155)scale(1.3,.35)">A</text><text class="g" transform="translate(0,180)scale(1.3,.35)">P</text><text class="k" transform="translate(0,205)scale(1.3,.35)">V</text><text class="m" transform="translate(0,230)scale(1.3,.35)">N</text><text class="k" transform="translate(0,250)scale(1.3,.28)">L</text><text class="r" transform="translate(0,270)scale(1.3,.28)">E</text></g>
<g transform="translate(2178,857)scale(1,1.12)"><text class="s" transform="translate(0,40)scale(1.3,.56)">S</text><text class="b" transform="translate(0,65)scale(1.3,.35)">K</text><text class="m" transform="translate(0,100)scale(1.3,.49)">N</text><text class="s" transform="translate(0,125)scale(1.3,.35)">T</text><text class="g" transform="translate(0,150)scale(1.3,.35)">G</text><text class="r" transform="translate(0,180)scale(1.3,.42)">E</text><text class="k" transform="translate(0,205)scale(1.3,.35)">L</text><text class="k" transform="translate(0,230)scale(1.3,.35)">A</text><text class="r" transform="translate(0,250)scale(1.3,.28)">D</text><text class="g" transform="translate(0,270)scale(1.3,.28)">G</text></g>
<g transform="translate(2272.5,857)scale(1,1.12)"><text class="s" transform="translate(0,40)scale(1.3,.56)">S</text><text class="r" transform="translate(0,75)scale(1.3,.49)">D</text><text class="k" transform="translate(0,100)scale(1.3,.35)">L</text><text class="b" transform="translate(0,125)scale(1.3,.35)">K</text><text class="k" transform="translate(0,155)scale(1.3,.42)">X</text><text class="b" transform="translate(0,180)scale(1.3,.35)">R</text><text class="g" transform="translate(0,205)scale(1.3,.35)">P</text><text class="r" transform="translate(0,230)scale(1.3,.35)">E</text><text class="m" transform="translate(0,250)scale(1.3,.28)">N</text><text class="k" transform="translate(0,270)scale(1.3,.28)">Y</text></g>
<g transform="translate(2367,857)scale(1,1.1)"><text class="b" transform="translate(0,40)scale(1.3,.56)">K</text><text class="g" transform="translate(0,70)scale(1.3,.42)">G</text><text class="s" transform="translate(0,95)scale(1.3,.35)">S</text><text class="g" transform="translate(0,120)scale(1.3,.35)">P</text><text class="m" transform="translate(0,150)scale(1.3,.42)">N</text><text class="k" transform="translate(0,185)scale(1.3,.49)">A</text><text class="k" transform="translate(0,210)scale(1.3,.35)">M</text><text class="r" transform="translate(0,235)scale(1.3,.35)">E</text><text class="r" transform="translate(0,255)scale(1.3,.28)">D</text><text class="s" transform="translate(0,275)scale(1.3,.28)">T</text></g>
<g transform="translate(2461.5,857)"><text class="s" transform="translate(0,306)scale(1.65,4.25)">S</text></g>
<g transform="translate(2556,857)scale(1,1.06)"><text class="s" transform="translate(0,50)scale(1.3,.69)">T</text><text class="k" transform="translate(0,120)scale(1.3,.97)">L</text><text class="s" transform="translate(0,170)scale(1.3,.69)">S</text><text class="k" transform="translate(0,210)scale(1.3,.56)">A</text><text class="r" transform="translate(0,235)scale(1.3,.35)">E</text><text class="r" transform="translate(0,255)scale(1.3,.28)">D</text><text class="g" transform="translate(0,270)scale(1.3,.21)">G</text><text class="k" transform="translate(0,285)scale(1.3,.21)">X</text></g>
<g transform="translate(2650.5,857)"><text class="g" transform="translate(0,306)scale(1.6,4.25)">P</text></g>
<g transform="translate(2745,857)scale(1,1.14)"><text class="b" transform="translate(0,35)scale(1.3,.49)">R</text><text class="r" transform="translate(0,60)scale(1.3,.35)">D</text><text class="g" transform="translate(0,85)scale(1.3,.35)">G</text><text class="k" transform="translate(0,110)scale(1.3,.35)">X</text><text class="m" transform="translate(0,135)scale(1.3,.35)">N</text><text class="k" transform="translate(0,160)scale(1.3,.35)">V</text><text class="k" transform="translate(0,180)scale(1.3,.28)">Y</text><text class="k" transform="translate(0,200)scale(1.3,.28)">L</text><text class="r" transform="translate(0,225)scale(1.3,.35)">E</text><text class="s" transform="translate(0,245)scale(1.3,.28)">S</text><text class="b" transform="translate(0,265)scale(1.3,.28)">K</text></g>
<g transform="translate(2839.5,857)scale(1,1.1)"><text class="s" transform="translate(0,35)scale(1.3,.49)">S</text><text class="g" transform="translate(0,65)scale(1.3,.42)">G</text><text class="g" transform="translate(0,90)scale(1.3,.35)">P</text><text class="k" transform="translate(0,120)scale(1.3,.42)">L</text><text class="b" transform="translate(0,150)scale(1.3,.42)">R</text><text class="r" transform="translate(0,175)scale(1.3,.35)">E</text><text class="k" transform="translate(0,205)scale(1.3,.42)">X</text><text class="k" transform="translate(0,230)scale(1.3,.35)">M</text><text class="k" transform="translate(0,255)scale(1.3,.35)">V</text><text class="g" transform="translate(0,275)scale(1.3,.28)">G</text></g>
<g transform="translate(2934,857)scale(1,1.12)"><text class="s" transform="translate(0,35)scale(1.3,.49)">S</text><text class="g" transform="translate(0,65)scale(1.3,.42)">P</text><text class="b" transform="translate(0,95)scale(1.3,.42)">R</text><text class="s" transform="translate(0,115)scale(1.3,.28)">T</text><text class="m" transform="translate(0,150)scale(1.3,.49)">N</text><text class="g" transform="translate(0,175)scale(1.3,.35)">G</text><text class="r" transform="translate(0,200)scale(1.3,.35)">E</text><text class="k" transform="translate(0,225)scale(1.3,.35)">X</text><text class="k" transform="translate(0,250)scale(1.3,.35)">V</text><text class="b" transform="translate(0,270)scale(1.3,.28)">K</text></g>
<g transform="translate(3028.5,857)scale(1,1.1)"><text class="g" transform="translate(0,40)scale(1.3,.56)">P</text><text class="s" transform="translate(0,65)scale(1.3,.35)">S</text><text class="k" transform="translate(0,90)scale(1.3,.35)">A</text><text class="r" transform="translate(0,115)scale(1.3,.35)">E</text><text class="s" transform="translate(0,140)scale(1.3,.35)">S</text><text class="g" transform="translate(0,165)scale(1.3,.35)">G</text><text class="b" transform="translate(0,190)scale(1.3,.35)">K</text><text class="b" transform="translate(0,210)scale(1.3,.28)">R</text><text class="k" transform="translate(0,235)scale(1.3,.35)">V</text><text class="k" transform="translate(0,255)scale(1.3,.28)">X</text><text class="r" transform="translate(0,275)scale(1.3,.28)">E</text></g>
<g transform="translate(3123,857)scale(1,1.09)"><text class="b" transform="translate(0,40)scale(1.3,.56)">R</text><text class="k" transform="translate(0,65)scale(1.3,.35)">A</text><text class="p" transform="translate(0,90)scale(1.3,.35)">F</text><text class="r" transform="translate(0,115)scale(1.3,.35)">E</text><text class="o" transform="translate(0,135)scale(1.3,.28)">C</text><text class="k" transform="translate(0,160)scale(1.3,.35)">L</text><text class="k" transform="translate(0,190)scale(1.3,.42)">V</text><text class="p" transform="translate(0,220)scale(1.1,.42)">W</text><text class="r" transform="translate(0,245)scale(1.3,.35)">E</text><text class="r" transform="translate(0,265)scale(1.3,.28)">D</text><text class="g" transform="translate(0,280)scale(1.3,.21)">G</text></g>
<g><text class="ax" transform="translate(1810,1203)rotate(-90)">-7</text><text class="ax" transform="translate(1904.5,1203)rotate(-90)">-6</text><text class="ax" transform="translate(1999,1203)rotate(-90)">-5</text><text class="ax" transform="translate(2093.5,1203)rotate(-90)">-4</text><text class="ax" transform="translate(2188,1203)rotate(-90)">-3</text><text class="ax" transform="translate(2282.5,1203)rotate(-90)">-2</text><text class="ax" transform="translate(2377,1203)rotate(-90)">-1</text><text class="ax" transform="translate(2471.5,1203)rotate(-90)">0</text><text class="ax" transform="translate(2566,1203)rotate(-90)">+1</text><text class="ax" transform="translate(2660.5,1203)rotate(-90)">+2</text><text class="ax" transform="translate(2755,1203)rotate(-90)">+3</text><text class="ax" transform="translate(2849.5,1203)rotate(-90)">+4</text><text class="ax" transform="translate(2944,1203)rotate(-90)">+5</text><text class="ax" transform="translate(3038.5,1203)rotate(-90)">+6</text><text class="ax" transform="translate(3133,1203)rotate(-90)">+7</text></g>
</g>

<g id="E">
<text class="pl" x="22" y="1479">E</text>
<rect class="box" x="98" y="1542" width="1452" height="420"/>
<line class="base" x1="118" y1="1866" x2="1555" y2="1866"/>
<g transform="translate(170,1560)scale(1,1.09)"><text class="s" transform="translate(0,40)scale(1.3,.56)">S</text><text class="k" transform="translate(0,70)scale(1.3,.42)">A</text><text class="g" transform="translate(0,100)scale(1.3,.42)">G</text><text class="k" transform="translate(0,130)scale(1.3,.42)">V</text><text class="r" transform="translate(0,150)scale(1.3,.28)">E</text><text class="k" transform="translate(0,170)scale(1.3,.28)">L</text><text class="m" transform="translate(0,195)scale(1.3,.35)">N</text><text class="b" transform="translate(0,220)scale(1.3,.35)">K</text><text class="s" transform="translate(0,240)scale(1.3,.28)">T</text><text class="m" transform="translate(0,260)scale(1.3,.28)">Q</text><text class="s" transform="translate(0,280)scale(1.3,.28)">S</text></g>
<g transform="translate(265.5,1560)scale(1,1.09)"><text class="b" transform="translate(0,45)scale(1.3,.63)">K</text><text class="g" transform="translate(0,75)scale(1.3,.42)">P</text><text class="s" transform="translate(0,105)scale(1.3,.42)">S</text><text class="b" transform="translate(0,130)scale(1.3,.35)">R</text><text class="k" transform="translate(0,155)scale(1.3,.35)">Y</text><text class="g" transform="translate(0,180)scale(1.3,.35)">P</text><text class="k" transform="translate(0,200)scale(1.3,.28)">X</text><text class="r" transform="translate(0,225)scale(1.3,.35)">E</text><text class="m" transform="translate(0,245)scale(1.3,.28)">N</text><text class="k" transform="translate(0,265)scale(1.3,.28)">C</text><text class="s" transform="translate(0,280)scale(1.3,.21)">T</text></g>
<g transform="translate(361,1560)scale(1,1.09)"><text class="g" transform="translate(0,55)scale(1.3,.76)">G</text><text class="k" transform="translate(0,95)scale(1.3,.56)">L</text><text class="r" transform="translate(0,120)scale(1.3,.35)">E</text><text class="g" transform="translate(0,150)scale(1.3,.42)">P</text><text class="g" transform="translate(0,175)scale(1.3,.35)">G</text><text class="s" transform="translate(0,200)scale(1.3,.35)">S</text><text class="b" transform="translate(0,225)scale(1.3,.35)">K</text><text class="s" transform="translate(0,245)scale(1.3,.28)">T</text><text class="k" transform="translate(0,265)scale(1.3,.28)">C</text><text class="m" transform="translate(0,280)scale(1.3,.21)">N</text></g>
<g transform="translate(456.5,1560)scale(1,1.09)"><text class="s" transform="translate(0,70)scale(1.3,.97)">S</text><text class="k" transform="translate(0,100)scale(1.3,.42)">A</text><text class="b" transform="translate(0,130)scale(1.3,.42)">R</text><text class="m" transform="translate(0,155)scale(1.3,.35)">N</text><text class="r" transform="translate(0,180)scale(1.3,.35)">D</text><text class="r" transform="translate(0,205)scale(1.3,.35)">E</text><text class="g" transform="translate(0,225)scale(1.3,.28)">G</text><text class="k" transform="translate(0,245)scale(1.3,.28)">Y</text><text class="k" transform="translate(0,265)scale(1.3,.28)">L</text><text class="s" transform="translate(0,280)scale(1.3,.21)">T</text></g>
<g transform="translate(552,1560)scale(1,1.1)"><text class="g" transform="translate(0,55)scale(1.3,.76)">G</text><text class="b" transform="translate(0,90)scale(1.3,.49)">R</text><text class="k" transform="translate(0,120)scale(1.3,.42)">A</text><text class="k" transform="translate(0,145)scale(1.3,.35)">L</text><text class="m" transform="translate(0,170)scale(1.3,.35)">N</text><text class="k" transform="translate(0,200)scale(1.3,.42)">Y</text><text class="k" transform="translate(0,220)scale(1.3,.28)">A</text><text class="r" transform="translate(0,240)scale(1.3,.28)">E</text><text class="g" transform="translate(0,260)scale(1.3,.28)">P</text><text class="s" transform="translate(0,275)scale(1.3,.21)">S</text></g>
<g transform="translate(647.5,1560)scale(1,1.12)"><text class="g" transform="translate(0,45)scale(1.3,.63)">P</text><text class="k" transform="translate(0,75)scale(1.3,.42)">A</text><text class="o" transform="translate(0,95)scale(1.3,.28)">C</text><text class="k" transform="translate(0,120)scale(1.3,.35)">L</text><text class="m" transform="translate(0,145)scale(1.3,.35)">N</text><text class="r" transform="translate(0,170)scale(1.3,.35)">E</text><text class="g" transform="translate(0,190)scale(1.3,.28)">G</text><text class="k" transform="translate(0,210)scale(1.3,.28)">L</text><text class="k" transform="translate(0,230)scale(1.3,.28)">V</text><text class="b" transform="translate(0,250)scale(1.3,.28)">K</text><text class="m" transform="translate(0,270)scale(1.3,.28)">Q</text></g>
<g transform="translate(743,1560)scale(1,1.1)"><text class="s" transform="translate(0,45)scale(1.3,.63)">S</text><text class="k" transform="translate(0,90)scale(1.3,.63)">A</text><text class="k" transform="translate(0,115)scale(1.3,.35)">L</text><text class="m" transform="translate(0,140)scale(1.3,.35)">Q</text><text class="g" transform="translate(0,165)scale(1.3,.35)">G</text><text class="k" transform="translate(0,190)scale(1.3,.35)">V</text><text class="m" transform="translate(0,215)scale(1.3,.35)">N</text><text class="r" transform="translate(0,235)scale(1.3,.28)">E</text><text class="b" transform="translate(0,255)scale(1.3,.28)">K</text><text class="m" transform="translate(0,275)scale(1.3,.28)">Q</text></g>
<g transform="translate(838.5,1560)"><text class="s" transform="translate(0,306)scale(1.6,4.25)">T</text></g>
<g transform="translate(934,1560)"><text class="g" transform="translate(0,306)scale(1.6,4.25)">P</text></g>
<g transform="translate(1029.5,1560)scale(1,1.1)"><text class="g" transform="translate(0,45)scale(1.3,.63)">P</text><text class="g" transform="translate(0,80)scale(1.3,.49)">G</text><text class="b" transform="translate(0,110)scale(1.3,.42)">R</text><text class="k" transform="translate(0,135)scale(1.3,.35)">A</text><text class="k" transform="translate(0,155)scale(1.3,.28)">L</text><text class="k" transform="translate(0,185)scale(1.3,.42)">Y</text><text class="s" transform="translate(0,205)scale(1.3,.28)">T</text><text class="o" transform="translate(0,220)scale(1.3,.21)">C</text><text class="s" transform="translate(0,240)scale(1.3,.28)">S</text><text class="r" transform="translate(0,260)scale(1.3,.28)">E</text><text class="m" transform="translate(0,275)scale(1.3,.21)">N</text></g>
<g transform="translate(1125,1560)scale(1,1.1)"><text class="b" transform="translate(0,70)scale(1.3,.97)">R</text><text class="g" transform="translate(0,100)scale(1.3,.42)">P</text><text class="m" transform="translate(0,125)scale(1.3,.35)">N</text><text class="s" transform="translate(0,150)scale(1.3,.35)">S</text><text class="k" transform="translate(0,175)scale(1.3,.35)">A</text><text class="m" transform="translate(0,200)scale(1.3,.35)">Q</text><text class="r" transform="translate(0,220)scale(1.3,.28)">E</text><text class="k" transform="translate(0,240)scale(1.3,.28)">V</text><text class="k" transform="translate(0,260)scale(1.3,.28)">L</text><text class="g" transform="translate(0,275)scale(1.3,.21)">G</text></g>
<g transform="translate(1220.5,1560)scale(1,1.12)"><text class="s" transform="translate(0,35)scale(1.3,.49)">T</text><text class="s" transform="translate(0,70)scale(1.3,.49)">S</text><text class="g" transform="translate(0,100)scale(1.3,.42)">G</text><text class="m" transform="translate(0,125)scale(1.3,.35)">N</text><text class="g" transform="translate(0,150)scale(1.3,.35)">P</text><text class="r" transform="translate(0,175)scale(1.3,.35)">E</text><text class="s" transform="translate(0,200)scale(1.3,.35)">S</text><text class="k" transform="translate(0,220)scale(1.3,.28)">L</text><text class="k" transform="translate(0,240)scale(1.3,.28)">V</text><text class="k" transform="translate(0,255)scale(1.3,.21)">C</text><text class="b" transform="translate(0,270)scale(1.3,.21)">K</text></g>
<g transform="translate(1316,1560)scale(1,1.12)"><text class="s" transform="translate(0,30)scale(1.3,.42)">S</text><text class="k" transform="translate(0,70)scale(2.6,.56)">I</text><text class="b" transform="translate(0,100)scale(1.3,.42)">R</text><text class="g" transform="translate(0,125)scale(1.3,.35)">P</text><text class="k" transform="translate(0,150)scale(1.3,.35)">A</text><text class="s" transform="translate(0,170)scale(1.3,.28)">T</text><text class="r" transform="translate(0,195)scale(1.3,.35)">E</text><text class="o" transform="translate(0,215)scale(1.3,.28)">C</text><text class="s" transform="translate(0,235)scale(1.3,.28)">S</text><text class="g" transform="translate(0,255)scale(1.3,.28)">G</text><text class="m" transform="translate(0,270)scale(1.3,.21)">Q</text></g>
<g transform="translate(1411.5,1560)scale(1,1.08)"><text class="b" transform="translate(0,40)scale(1.3,.56)">R</text><text class="g" transform="translate(0,80)scale(1.3,.56)">P</text><text class="k" transform="translate(0,115)scale(1.3,.49)">A</text><text class="b" transform="translate(0,140)scale(1.3,.35)">K</text><text class="r" transform="translate(0,165)scale(1.3,.35)">E</text><text class="r" transform="translate(0,185)scale(1.3,.28)">D</text><text class="k" transform="translate(0,205)scale(1.3,.28)">L</text><text class="g" transform="translate(0,225)scale(1.3,.28)">G</text><text class="s" transform="translate(0,245)scale(1.3,.28)">S</text><text class="k" transform="translate(0,265)scale(1.3,.28)">C</text><text class="m" transform="translate(0,280)scale(1.3,.21)">Q</text></g>
<g transform="translate(1507,1560)scale(1,1.12)"><text class="b" transform="translate(0,40)scale(1.3,.56)">R</text><text class="s" transform="translate(0,65)scale(1.3,.35)">T</text><text class="r" transform="translate(0,95)scale(1.3,.42)">E</text><text class="b" transform="translate(0,120)scale(1.3,.35)">K</text><text class="r" transform="translate(0,140)scale(1.3,.28)">D</text><text class="g" transform="translate(0,165)scale(1.3,.35)">G</text><text class="k" transform="translate(0,185)scale(1.3,.28)">L</text><text class="m" transform="translate(0,205)scale(1.3,.28)">Q</text><text class="r" transform="translate(0,225)scale(1.3,.28)">E</text><text class="k" transform="translate(0,250)scale(1.3,.35)">X</text><text class="s" transform="translate(0,270)scale(1.3,.28)">S</text></g>
<g><text class="ax" transform="translate(180,1906)rotate(-90)">-7</text><text class="ax" transform="translate(275.5,1906)rotate(-90)">-6</text><text class="ax" transform="translate(371,1906)rotate(-90)">-5</text><text class="ax" transform="translate(466.5,1906)rotate(-90)">-4</text><text class="ax" transform="translate(562,1906)rotate(-90)">-3</text><text class="ax" transform="translate(657.5,1906)rotate(-90)">-2</text><text class="ax" transform="translate(753,1906)rotate(-90)">-1</text><text class="ax" transform="translate(848.5,1906)rotate(-90)">0</text><text class="ax" transform="translate(944,1906)rotate(-90)">+1</text><text class="ax" transform="translate(1039.5,1906)rotate(-90)">+2</text><text class="ax" transform="translate(1135,1906)rotate(-90)">+3</text><text class="ax" transform="translate(1230.5,1906)rotate(-90)">+4</text><text class="ax" transform="translate(1326,1906)rotate(-90)">+5</text><text class="ax" transform="translate(1421.5,1906)rotate(-90)">+6</text><text class="ax" transform="translate(1517,1906)rotate(-90)">+7</text></g>
</g>
<g id="connectors"/>
</svg>
